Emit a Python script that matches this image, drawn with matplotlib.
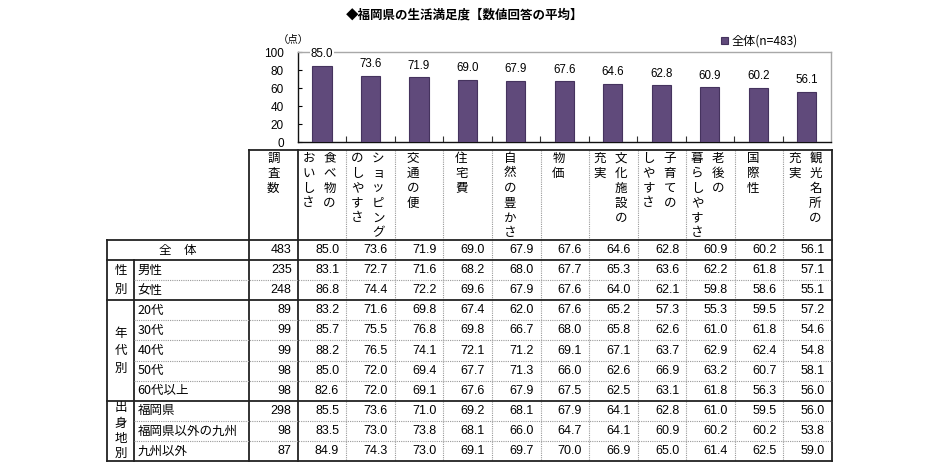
import matplotlib
matplotlib.use("Agg")
import matplotlib.pyplot as plt

plt.rcParams['font.family'] = ['Noto Sans CJK JP', 'DejaVu Sans']

# ---------------- data ----------------
title = "◆福岡県の生活満足度【数値回答の平均】"
unit_label = "（点）"
legend_label = "全体(n=483)"
categories = ['食べ物のおいしさ', 'ショッピングのしやすさ', '交通の便', '住宅費', '自然の豊かさ',
              '物価', '文化施設の充実', '子育てのしやすさ', '老後の暮らしやすさ', '国際性', '観光名所の充実']
# header text split into vertical columns (read right to left)
header_cols = [['調査数'], ['食べ物の', 'おいしさ'], ['ショッピング', 'のしやすさ'], ['交通の便'], ['住宅費'],
               ['自然の豊かさ'], ['物価'], ['文化施設の', '充実'], ['子育ての', 'しやすさ'],
               ['老後の', '暮らしやすさ'], ['国際性'], ['観光名所の', '充実']]
total_label = "全　体"
total_n = 483
total_values = [85.0, 73.6, 71.9, 69.0, 67.9, 67.6, 64.6, 62.8, 60.9, 60.2, 56.1]
yticks = [0, 20, 40, 60, 80, 100]

groups = ['性別', '年代別', '出身地別']
group_rows = [['男性', '女性'],
              ['20代', '30代', '40代', '50代', '60代以上'],
              ['福岡県', '福岡県以外の九州', '九州以外']]
row_n = [[235, 248], [89, 99, 99, 98, 98], [298, 98, 87]]
row_values = [
    [[83.1, 72.7, 71.6, 68.2, 68.0, 67.7, 65.3, 63.6, 62.2, 61.8, 57.1],
     [86.8, 74.4, 72.2, 69.6, 67.9, 67.6, 64.0, 62.1, 59.8, 58.6, 55.1]],
    [[83.2, 71.6, 69.8, 67.4, 62.0, 67.6, 65.2, 57.3, 55.3, 59.5, 57.2],
     [85.7, 75.5, 76.8, 69.8, 66.7, 68.0, 65.8, 62.6, 61.0, 61.8, 54.6],
     [88.2, 76.5, 74.1, 72.1, 71.2, 69.1, 67.1, 63.7, 62.9, 62.4, 54.8],
     [85.0, 72.0, 69.4, 67.7, 71.3, 66.0, 62.6, 66.9, 63.2, 60.7, 58.1],
     [82.6, 72.0, 69.1, 67.6, 67.9, 67.5, 62.5, 63.1, 61.8, 56.3, 56.0]],
    [[85.5, 73.6, 71.0, 69.2, 68.1, 67.9, 64.1, 62.8, 61.0, 59.5, 56.0],
     [83.5, 73.0, 73.8, 68.1, 66.0, 64.7, 64.1, 60.9, 60.2, 60.2, 53.8],
     [84.9, 74.3, 73.0, 69.1, 69.7, 70.0, 66.9, 65.0, 61.4, 62.5, 59.0]],
]

# ---------------- layout (pixels) ----------------
W, H = 940, 473
BAR_COLOR = '#604a7b'
BAR_EDGE = '#45335e'
DARK = '#222222'
GRAY = '#9a9a9a'
NUM_FONT = ['Liberation Sans', 'DejaVu Sans']
NUM_SIZE = 9
JP_SIZE = 9

tab_left, grp_right, lab_right = 107, 134, 249
col_w = (832 - 249) / 12.0
col_edges = [lab_right + i * col_w for i in range(13)]
head_top, head_bot = 150, 240
row_h = (461 - 240) / 11.0

fig = plt.figure(figsize=(W / 100, H / 100), dpi=100)

# table / annotation canvas in pixel coordinates
tab = fig.add_axes([0, 0, 1, 1])
tab.set_xlim(0, W)
tab.set_ylim(H, 0)
tab.axis('off')

# bar chart axes aligned with data columns
ax_l, ax_r, ax_t, ax_b = col_edges[1], col_edges[12] - 1, 52, 142
ax = fig.add_axes([ax_l / W, 1 - ax_b / H, (ax_r - ax_l) / W, (ax_b - ax_t) / H])
x = list(range(len(categories)))
bars = ax.bar(x, total_values, width=0.4, color=BAR_COLOR, edgecolor=BAR_EDGE,
              linewidth=0.8, label=legend_label, zorder=3)
ax.bar_label(bars, labels=[f"{v:.1f}" for v in total_values], padding=4,
             fontsize=8.3, family=NUM_FONT,
             bbox=dict(facecolor='white', edgecolor='none', pad=0.5), zorder=4)
ax.set_xlim(-0.5, len(categories) - 0.5)
ax.set_ylim(0, 100)
ax.set_yticks(yticks)
ax.set_yticklabels([str(t) for t in yticks], family=NUM_FONT, fontsize=8.5)
ax.set_xticks([])
ax.set_xticks([i + 0.5 for i in x[:-1]], minor=True)
ax.tick_params(axis='x', which='minor', direction='in', length=4, width=0.8, color='#333333')
ax.tick_params(axis='y', direction='in', length=3, width=0.8, pad=10)
for s in ['left', 'bottom']:
    ax.spines[s].set_color('#111111')
    ax.spines[s].set_linewidth(1.0)
for s in ['top', 'right']:
    ax.spines[s].set_color('#a8a8a8')
    ax.spines[s].set_linewidth(1.0)
ax.patch.set_alpha(0)

fig.legend(handles=[bars], labels=[legend_label], loc='center left',
           bbox_to_anchor=(721 / W, 1 - 41 / H), frameon=False, fontsize=8.7,
           handlelength=0.55, handleheight=0.55, handletextpad=0.35,
           borderpad=0, borderaxespad=0)

tab.text(465, 15, title, ha='center', va='center', fontsize=9, fontweight='bold')
tab.text(293, 40, unit_label, ha='center', va='center', fontsize=7.5)

# ---------------- table grid ----------------
n_rows = 1 + sum(len(g) for g in group_rows)
row_edges = [head_bot + i * row_h for i in range(n_rows + 1)]
tab_bot = row_edges[-1]

def hline(y, x0, x1, dark):
    if dark:
        tab.plot([x0, x1], [y, y], color=DARK, lw=1.3, solid_capstyle='projecting')
    else:
        tab.plot([x0, x1], [y, y], color=GRAY, lw=0.8, ls=(0, (1, 1)))

def vline(xp, y0, y1, dark):
    if dark:
        tab.plot([xp, xp], [y0, y1], color=DARK, lw=1.3, solid_capstyle='projecting')
    else:
        tab.plot([xp, xp], [y0, y1], color=GRAY, lw=0.8, ls=(0, (1, 1)))

# vertical lines
for i, xe in enumerate(col_edges):
    vline(xe, head_top, tab_bot, i in (0, 1, 12))
vline(tab_left, head_bot, tab_bot, True)
vline(grp_right, row_edges[1], tab_bot, True)

# horizontal lines
hline(head_top, col_edges[0], col_edges[12], True)
group_starts = [1]
for g in group_rows[:-1]:
    group_starts.append(group_starts[-1] + len(g))
for r in range(n_rows + 1):
    if r in (0, 1, n_rows) or r in group_starts:
        hline(row_edges[r], tab_left, col_edges[12], True)
    else:
        hline(row_edges[r], grp_right, col_edges[12], False)

# header vertical text
char_top, char_step = 158, 15
for c, cols in enumerate(header_cols):
    left = col_edges[c]
    if c == 0:
        xs = [left + col_w / 2]
    elif len(cols) == 1:
        xs = [left + 18]
    else:
        xs = [left + 32, left + 11]
    for xc, s in zip(xs, cols):
        for k, ch in enumerate(s):
            tab.text(xc, char_top + k * char_step, ch, ha='center', va='center', fontsize=JP_SIZE)

def row_text(r, n, vals):
    yc = (row_edges[r] + row_edges[r + 1]) / 2
    tab.text(col_edges[1] - 6, yc, str(n), ha='right', va='center', fontsize=NUM_SIZE, family=NUM_FONT)
    for j, v in enumerate(vals):
        tab.text(col_edges[j + 2] - 7, yc, f"{v:.1f}", ha='right', va='center',
                 fontsize=NUM_SIZE, family=NUM_FONT)

# total row
yc0 = (row_edges[0] + row_edges[1]) / 2
tab.text((tab_left + lab_right) / 2, yc0, total_label, ha='center', va='center', fontsize=JP_SIZE)
row_text(0, total_n, total_values)

# group rows
group_char_step = [18.5, 17.5, 15.3]
r = 1
for g, labels, ns, vals_list, step in zip(groups, group_rows, row_n, row_values, group_char_step):
    g_top, g_bot = row_edges[r], row_edges[r + len(labels)]
    g_mid = (g_top + g_bot) / 2
    for k, ch in enumerate(g):
        yk = g_mid + (k - (len(g) - 1) / 2) * step
        tab.text((tab_left + grp_right) / 2, yk, ch, ha='center', va='center', fontsize=JP_SIZE)
    for lab, n, vals in zip(labels, ns, vals_list):
        yc = (row_edges[r] + row_edges[r + 1]) / 2
        tab.text(grp_right + 3.5, yc, lab, ha='left', va='center', fontsize=JP_SIZE)
        row_text(r, n, vals)
        r += 1

fig.savefig('out.png', dpi=100)
